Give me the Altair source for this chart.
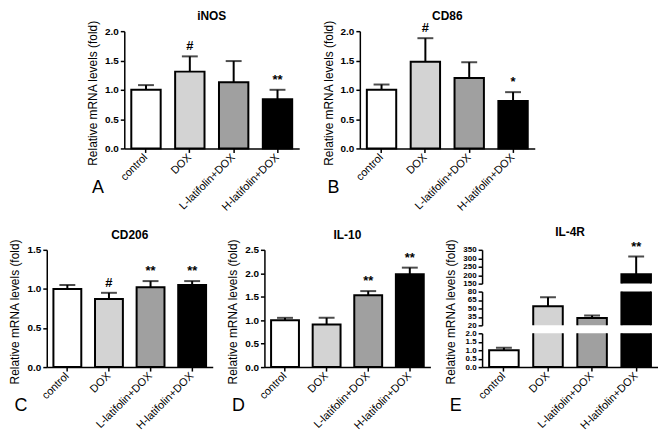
import altair as alt
import pandas as pd

categories = ["control", "DOX", "L-latifolin+DOX", "H-latifolin+DOX"]
bar_colors = ["#ffffff", "#d3d3d3", "#a0a0a0", "#000000"]

inos_mean = [1.00, 1.31, 1.13, 0.84]
inos_err = [0.08, 0.26, 0.36, 0.16]
inos_sig = ["", "#", "", "**"]

cd86_mean = [1.00, 1.48, 1.20, 0.81]
cd86_err = [0.09, 0.40, 0.27, 0.15]
cd86_sig = ["", "#", "", "*"]

cd206_mean = [1.00, 0.87, 1.02, 1.05]
cd206_err = [0.05, 0.08, 0.08, 0.05]
cd206_sig = ["", "#", "**", "**"]

il10_mean = [1.00, 0.91, 1.53, 1.98]
il10_err = [0.05, 0.14, 0.09, 0.14]
il10_sig = ["", "", "**", "**"]

il4r_mean = [1.0, 54.0, 33.0, 205.0]
il4r_err = [0.14, 16.0, 4.5, 105.0]
il4r_sig = ["", "", "", "**"]

ytick_2 = [0.0, 0.5, 1.0, 1.5, 2.0]
ytick_15 = [0.0, 0.5, 1.0, 1.5]
ytick_25 = [0.0, 0.5, 1.0, 1.5, 2.0, 2.5]
e_top_ticks = [150, 200, 250, 300, 350]
e_mid_ticks = [20, 35, 50, 65, 80]
e_bot_ticks = [0.0, 0.5, 1.0, 1.5, 2.0]

YTITLE = "Relative mRNA levels (fold)"
FONT = "Liberation Sans"
H = 118


def frame(means, errs, sigs):
    return pd.DataFrame({
        "cat": categories,
        "mean": means,
        "top": [m + e for m, e in zip(means, errs)],
        "sig": sigs,
    })


def xenc(letter, show=True):
    if not show:
        ax = None
    else:
        ax = alt.Axis(title=letter, labelAngle=315, labelAlign="right", labelBaseline="middle",
                      labelFontSize=11, labelPadding=3, titleFontSize=18, titleFontWeight="normal",
                      titleAnchor="start", titleAlign="left", titleBaseline="alphabetic",
                      titleX=-33, titleY=44)
    return alt.X("cat:N", sort=categories,
                 scale=alt.Scale(paddingInner=0.33, paddingOuter=0.16), axis=ax)


def yaxis(ticks, fmt, title=True, tfs=10, h=H):
    kw = dict(values=ticks, format=fmt, labelFontSize=tfs, labelFontWeight="bold",
              labelOverlap=False, grid=False)
    if title:
        kw.update(title=YTITLE, titleX=-25, titleY=h / 2 + 3, titleFontSize=12,
                  titleFontWeight="normal", titleBaseline="bottom", titleAngle=270)
    else:
        kw.update(title=None)
    return alt.Axis(**kw)


def layers(df, x, yscale, yax, clip=False, with_text=True):
    base = alt.Chart(df).encode(x=x)
    bars = base.mark_bar(stroke="black", strokeWidth=2, clip=clip).encode(
        y=alt.Y("mean:Q", scale=yscale, axis=yax),
        y2=alt.datum(0),
        fill=alt.Fill("cat:N", sort=categories,
                      scale=alt.Scale(domain=categories, range=bar_colors), legend=None),
    )
    rule = base.mark_rule(strokeWidth=2, color="black", clip=clip).encode(
        y=alt.Y("mean:Q", scale=yscale, axis=yax), y2="top:Q")
    cap = base.mark_tick(size=16, thickness=2, color="black", clip=clip).encode(
        y=alt.Y("top:Q", scale=yscale, axis=yax))
    out = [bars, rule, cap]
    if with_text:
        text = base.mark_text(dy=-6, baseline="alphabetic", fontSize=13, fontWeight="bold",
                              color="black").encode(
            y=alt.Y("top:Q", scale=yscale, axis=yax), text="sig:N")
        out.append(text)
    return alt.layer(*out)


def panel(title, means, errs, sigs, ymax, ticks, letter, width):
    df = frame(means, errs, sigs)
    ys = alt.Scale(domain=[0, ymax], nice=False, zero=True)
    return layers(df, xenc(letter), ys, yaxis(ticks, ".1f")).properties(
        title=alt.TitleParams(text=title, offset=-3), width=width, height=H)


A = panel("iNOS", inos_mean, inos_err, inos_sig, 2.0, ytick_2, "A", 176)
B = panel("CD86", cd86_mean, cd86_err, cd86_sig, 2.0, ytick_2, "B", 176)
C = panel("CD206", cd206_mean, cd206_err, cd206_sig, 1.5, ytick_15, "C", 167)
D = panel("IL-10", il10_mean, il10_err, il10_sig, 2.5, ytick_25, "D", 167)

# IL-4R with broken y axis
df_e = frame(il4r_mean, il4r_err, il4r_sig)
EW = 177
h_top, h_mid, h_bot = 34, 34, 34
e_top = layers(df_e, xenc("", show=False),
               alt.Scale(domain=[150, 350], nice=False, zero=False),
               yaxis(e_top_ticks, "d", title=False, tfs=8, h=h_top), clip=True).properties(
    title=alt.TitleParams(text="IL-4R", offset=2), width=EW, height=h_top)
e_mid = layers(df_e, xenc("", show=False),
               alt.Scale(domain=[20, 80], nice=False, zero=False),
               yaxis(e_mid_ticks, "d", title=True, tfs=8, h=h_mid), clip=True,
               with_text=False).properties(width=EW, height=h_mid)
e_bot = layers(df_e, xenc("E"),
               alt.Scale(domain=[0, 2], nice=False, zero=True),
               yaxis(e_bot_ticks, ".1f", title=False, tfs=8, h=h_bot), clip=True,
               with_text=False).properties(width=EW, height=h_bot)
E = alt.vconcat(e_top, e_mid, e_bot, spacing=8, bounds="flush")

spacer = alt.Chart(pd.DataFrame({"v": [0]})).mark_point(opacity=0, size=0).encode(
    x=alt.value(0), y=alt.value(0)).properties(width=17, height=H)

row1 = alt.hconcat(spacer, A, B, spacing=22)
row2 = alt.hconcat(C, D, E, spacing=13)

chart = alt.vconcat(row1, row2, spacing=12).properties(padding=0).configure(
    font=FONT
).configure_view(stroke=None).configure_axis(
    domainColor="black", domainWidth=1.5, tickColor="black", tickWidth=1.5, tickSize=4,
    labelColor="black", titleColor="black", labelFont=FONT, titleFont=FONT,
).configure_title(
    font=FONT, fontSize=12, fontWeight="bold", color="black", anchor="middle",
    frame="group", baseline="alphabetic",
)

chart.save("out.html", embed_options={"renderer": "svg", "actions": False})
